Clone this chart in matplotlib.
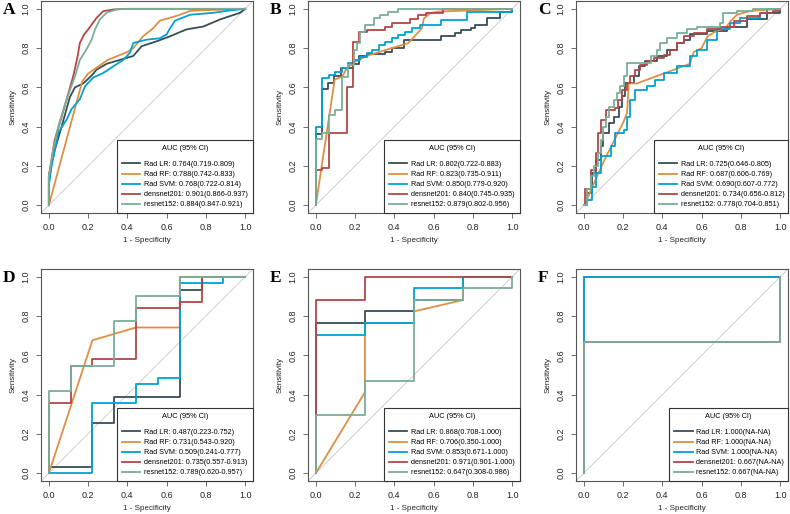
import matplotlib.pyplot as plt

plt.rcParams['font.family'] = ['Liberation Sans', 'DejaVu Sans']

# model names and colours (JAMA-like palette)
models = ["Rad LR", "Rad RF", "Rad SVM", "densnet201", "resnet152"]
colors = ["#374E55", "#DF8F44", "#00A1D5", "#B24745", "#79AF97"]

# AUC (95% CI) text per panel
auc_a = ["0.764(0.719-0.809)", "0.788(0.742-0.833)", "0.768(0.722-0.814)", "0.901(0.866-0.937)", "0.884(0.847-0.921)"]
auc_b = ["0.802(0.722-0.883)", "0.823(0.735-0.911)", "0.850(0.779-0.920)", "0.840(0.745-0.935)", "0.879(0.802-0.956)"]
auc_c = ["0.725(0.646-0.805)", "0.687(0.606-0.769)", "0.690(0.607-0.772)", "0.734(0.656-0.812)", "0.778(0.704-0.851)"]
auc_d = ["0.487(0.223-0.752)", "0.731(0.543-0.920)", "0.509(0.241-0.777)", "0.735(0.557-0.913)", "0.789(0.620-0.957)"]
auc_e = ["0.868(0.708-1.000)", "0.706(0.350-1.000)", "0.853(0.671-1.000)", "0.971(0.901-1.000)", "0.647(0.308-0.986)"]
auc_f = ["1.000(NA-NA)", "1.000(NA-NA)", "1.000(NA-NA)", "0.667(NA-NA)", "0.667(NA-NA)"]

# ROC points (1 - specificity, sensitivity)
a_lr = [(0, 0), (0, 0.15), (0.03, 0.28), (0.065, 0.40), (0.09, 0.49), (0.107, 0.55), (0.133, 0.60), (0.175, 0.62),
        (0.218, 0.66), (0.243, 0.69), (0.294, 0.72), (0.362, 0.74), (0.43, 0.76), (0.473, 0.81), (0.55, 0.835),
        (0.617, 0.86), (0.70, 0.895), (0.787, 0.91), (0.872, 0.946), (0.974, 0.98), (1, 1)]
a_rf = [(0, 0), (0.17, 0.63), (0.20, 0.67), (0.30, 0.74), (0.40, 0.78), (0.43, 0.80), (0.48, 0.86), (0.53, 0.90),
        (0.566, 0.94), (0.62, 0.955), (0.668, 0.97), (0.72, 0.99), (0.85, 0.995), (1, 1)]
a_svm = [(0, 0), (0, 0.10), (0.014, 0.20), (0.048, 0.37), (0.09, 0.435), (0.116, 0.49), (0.158, 0.54), (0.184, 0.605),
         (0.226, 0.65), (0.277, 0.673), (0.328, 0.707), (0.379, 0.74), (0.413, 0.776), (0.43, 0.826), (0.498, 0.843),
         (0.566, 0.85), (0.60, 0.87), (0.617, 0.90), (0.643, 0.94), (0.72, 0.97), (0.84, 0.98), (0.906, 0.99), (1, 1)]
a_dense = [(0, 0), (0, 0.146), (0.019, 0.265), (0.03, 0.333), (0.065, 0.45), (0.09, 0.537), (0.124, 0.656),
           (0.145, 0.75), (0.158, 0.826), (0.18, 0.87), (0.20, 0.895), (0.243, 0.954), (0.277, 0.988), (0.33, 0.997),
           (0.40, 1.0), (1, 1)]
a_res = [(0, 0), (0, 0.146), (0.022, 0.28), (0.048, 0.40), (0.09, 0.537), (0.133, 0.656), (0.158, 0.74), (0.19, 0.79),
         (0.218, 0.843), (0.235, 0.895), (0.26, 0.946), (0.294, 0.98), (0.345, 0.997), (0.40, 1.0), (1, 1)]

b_lr = [(0, 0), (0, 0.36), (0.03, 0.36), (0.03, 0.59), (0.06, 0.59), (0.06, 0.62), (0.09, 0.62), (0.09, 0.66),
        (0.13, 0.66), (0.13, 0.70), (0.19, 0.70), (0.19, 0.72), (0.22, 0.72), (0.22, 0.76), (0.26, 0.76), (0.26, 0.77),
        (0.35, 0.77), (0.35, 0.78), (0.39, 0.78), (0.39, 0.80), (0.45, 0.80), (0.45, 0.84), (0.64, 0.84), (0.64, 0.86),
        (0.71, 0.86), (0.71, 0.876), (0.74, 0.876), (0.74, 0.89), (0.79, 0.89), (0.79, 0.90), (0.81, 0.90),
        (0.81, 0.918), (0.87, 0.918), (0.87, 0.952), (0.94, 0.952), (0.94, 0.986), (1, 0.986), (1, 1)]
b_rf = [(0, 0), (0.096, 0.64), (0.134, 0.655), (0.16, 0.70), (0.20, 0.73), (0.26, 0.76), (0.354, 0.79), (0.47, 0.825),
        (0.54, 0.90), (0.55, 0.95), (0.58, 0.977), (0.62, 0.986), (1, 1)]
b_svm = [(0, 0), (0, 0.40), (0.032, 0.40), (0.032, 0.646), (0.066, 0.646), (0.066, 0.663), (0.10, 0.663), (0.10, 0.68),
         (0.134, 0.68), (0.134, 0.697), (0.164, 0.697), (0.164, 0.722), (0.193, 0.722), (0.193, 0.74), (0.227, 0.74),
         (0.227, 0.757), (0.26, 0.757), (0.26, 0.774), (0.286, 0.774), (0.286, 0.79), (0.32, 0.79), (0.32, 0.816),
         (0.35, 0.816), (0.35, 0.833), (0.387, 0.833), (0.387, 0.85), (0.42, 0.85), (0.42, 0.867), (0.455, 0.867),
         (0.455, 0.884), (0.49, 0.884), (0.49, 0.90), (0.53, 0.90), (0.53, 0.918), (0.64, 0.918), (0.64, 0.944),
         (0.77, 0.944), (0.77, 0.986), (1, 0.986), (1, 1)]
b_dense = [(0, 0), (0, 0.18), (0.03, 0.18), (0.03, 0.19), (0.066, 0.19), (0.066, 0.37), (0.16, 0.37), (0.16, 0.60),
           (0.19, 0.60), (0.19, 0.83), (0.22, 0.83), (0.22, 0.88), (0.26, 0.88), (0.26, 0.89), (0.35, 0.89),
           (0.35, 0.91), (0.39, 0.91), (0.39, 0.93), (0.48, 0.93), (0.48, 0.95), (0.52, 0.95), (0.52, 0.97),
           (0.56, 0.97), (0.56, 0.98), (0.65, 0.98), (0.65, 1.0), (1, 1)]
b_res = [(0, 0), (0, 0.335), (0.032, 0.335), (0.032, 0.366), (0.066, 0.366), (0.066, 0.46), (0.10, 0.46), (0.10, 0.485),
         (0.134, 0.485), (0.134, 0.655), (0.164, 0.655), (0.164, 0.714), (0.193, 0.714), (0.193, 0.79), (0.21, 0.79),
         (0.21, 0.825), (0.227, 0.825), (0.227, 0.884), (0.252, 0.884), (0.252, 0.918), (0.294, 0.918), (0.294, 0.952),
         (0.328, 0.952), (0.328, 0.969), (0.37, 0.969), (0.37, 0.986), (0.42, 0.986), (0.42, 1.0), (1, 1)]

# panel C curves (step corners, except RF)
c_lr = [(0, 0), (0.017, 0.061), (0.042, 0.163), (0.06, 0.23), (0.085, 0.30), (0.098, 0.367), (0.127, 0.418),
        (0.153, 0.45), (0.178, 0.50), (0.195, 0.554), (0.212, 0.622), (0.254, 0.656), (0.28, 0.707), (0.314, 0.733),
        (0.373, 0.758), (0.424, 0.79), (0.475, 0.826), (0.51, 0.843), (0.542, 0.87), (0.627, 0.886), (0.73, 0.91),
        (0.83, 0.946), (0.932, 0.98), (1, 1)]
c_rf = [(0, 0), (0.008, 0), (0.02, 0.04), (0.10, 0.22), (0.20, 0.42), (0.22, 0.47), (0.229, 0.62), (0.27, 0.62),
        (0.54, 0.72), (0.56, 0.78), (0.60, 0.80), (0.63, 0.86), (0.68, 0.89), (0.72, 0.90), (0.75, 0.94), (0.78, 0.97),
        (0.85, 0.99), (1, 1)]
c_svm = [(0, 0), (0.017, 0.027), (0.042, 0.095), (0.06, 0.163), (0.085, 0.248), (0.136, 0.30), (0.16, 0.367),
         (0.203, 0.384), (0.22, 0.45), (0.237, 0.537), (0.263, 0.588), (0.322, 0.605), (0.364, 0.64), (0.407, 0.673),
         (0.475, 0.707), (0.542, 0.758), (0.576, 0.79), (0.627, 0.843), (0.678, 0.895), (0.746, 0.93), (0.797, 0.954),
         (0.898, 0.98), (0.932, 0.997), (1, 1)]
c_dense = [(0, 0), (0.005, 0.08), (0.034, 0.18), (0.06, 0.265), (0.071, 0.367), (0.088, 0.435), (0.115, 0.486),
           (0.16, 0.495), (0.173, 0.537), (0.195, 0.588), (0.22, 0.622), (0.237, 0.656), (0.263, 0.69), (0.288, 0.716),
           (0.322, 0.733), (0.356, 0.75), (0.407, 0.767), (0.44, 0.79), (0.475, 0.826), (0.51, 0.86), (0.56, 0.878),
           (0.627, 0.895), (0.695, 0.91), (0.763, 0.937), (0.83, 0.963), (0.898, 0.98), (0.966, 0.988), (1, 1)]
c_res = [(0, 0), (0.017, 0.08), (0.034, 0.146), (0.05, 0.197), (0.071, 0.265), (0.085, 0.333), (0.098, 0.40),
         (0.115, 0.45), (0.127, 0.50), (0.153, 0.537), (0.17, 0.571), (0.186, 0.605), (0.203, 0.656), (0.22, 0.724),
         (0.34, 0.758), (0.373, 0.79), (0.39, 0.826), (0.424, 0.852), (0.475, 0.878), (0.525, 0.895), (0.576, 0.91),
         (0.695, 0.93), (0.71, 0.98), (0.78, 0.988), (0.864, 1.0), (1, 1)]

d_lr = [(0, 0), (0, 0.032), (0.222, 0.032), (0.222, 0.258), (0.333, 0.258), (0.333, 0.387), (0.667, 0.387),
        (0.667, 0.935), (0.778, 0.935), (0.778, 1), (1, 1)]
d_rf = [(0, 0), (0.222, 0.677), (0.444, 0.742), (0.667, 0.742), (0.667, 1), (1, 1)]
d_svm = [(0, 0), (0.222, 0), (0.222, 0.355), (0.444, 0.355), (0.444, 0.452), (0.556, 0.452), (0.556, 0.484),
         (0.667, 0.484), (0.667, 0.968), (0.889, 0.968), (0.889, 1), (1, 1)]
d_dense = [(0, 0), (0, 0.355), (0.111, 0.355), (0.111, 0.548), (0.222, 0.548), (0.222, 0.581), (0.444, 0.581),
           (0.444, 0.839), (0.667, 0.839), (0.667, 0.871), (0.778, 0.871), (0.778, 1.0), (1, 1)]
d_res = [(0, 0), (0, 0.419), (0.111, 0.419), (0.111, 0.548), (0.333, 0.548), (0.333, 0.774), (0.444, 0.774),
         (0.444, 0.903), (0.667, 0.903), (0.667, 1.0), (1, 1)]

e_lr = [(0, 0), (0, 0.765), (0.25, 0.765), (0.25, 0.824), (0.5, 0.824), (0.5, 0.882), (0.75, 0.882), (0.75, 1), (1, 1)]
e_rf = [(0, 0), (0.25, 0.412), (0.25, 0.765), (0.5, 0.765), (0.5, 0.824), (0.75, 0.882), (0.75, 1), (1, 1)]
e_svm = [(0, 0), (0, 0.706), (0.25, 0.706), (0.25, 0.765), (0.5, 0.765), (0.5, 0.941), (0.75, 0.941), (0.75, 1), (1, 1)]
e_dense = [(0, 0), (0, 0.882), (0.25, 0.882), (0.25, 1), (1, 1)]
e_res = [(0, 0), (0, 0.294), (0.25, 0.294), (0.25, 0.471), (0.5, 0.471), (0.5, 0.882), (0.75, 0.882), (0.75, 0.941),
         (1, 0.941), (1, 1)]

f_lr = [(0, 0), (0, 1), (1, 1)]
f_rf = [(0, 0), (0, 1), (1, 1)]
f_svm = [(0, 0), (0, 1), (1, 1)]
f_dense = [(0, 0), (0, 0.667), (1, 0.667), (1, 1)]
f_res = [(0, 0), (0, 0.667), (1, 0.667), (1, 1)]

ticks = [0.0, 0.2, 0.4, 0.6, 0.8, 1.0]
tick_labels = ["0.0", "0.2", "0.4", "0.6", "0.8", "1.0"]

# letter, curves, auc text, axes left/top in px, legend width fraction, step-drawn panel
panels = [
    ("A", [a_lr, a_rf, a_svm, a_dense, a_res], auc_a, 41, 1, 0.642, False),
    ("B", [b_lr, b_rf, b_svm, b_dense, b_res], auc_b, 308, 1, 0.642, False),
    ("C", [c_lr, c_rf, c_svm, c_dense, c_res], auc_c, 576, 1, 0.632, True),
    ("D", [d_lr, d_rf, d_svm, d_dense, d_res], auc_d, 41, 269, 0.642, False),
    ("E", [e_lr, e_rf, e_svm, e_dense, e_res], auc_e, 308, 269, 0.642, False),
    ("F", [f_lr, f_rf, f_svm, f_dense, f_res], auc_f, 576, 269, 0.561, False),
]

W, H = 790, 514
SIZE = 212
fig = plt.figure(figsize=(W / 100, H / 100), dpi=100)

for letter, curves, aucs, left, top, leg_w, stepped in panels:
    ax = fig.add_axes([left / W, 1 - (top + SIZE) / H, SIZE / W, SIZE / H])
    ax.set_xlim(-0.04, 1.04)
    ax.set_ylim(-0.04, 1.04)
    ax.axline((0, 0), (1, 1), color="#c8c8c8", lw=0.6, zorder=1)

    handles = []
    for i, pts in enumerate(curves):
        xs = [p[0] for p in pts]
        ys = [p[1] for p in pts]
        ds = "steps-post" if (stepped and i != 1) else "default"
        ln, = ax.plot(xs, ys, color=colors[i], lw=1.3, drawstyle=ds, zorder=2 + i)
        handles.append(ln)

    labels = [f"{m}: {a}" for m, a in zip(models, aucs)]
    leg = ax.legend(handles, labels, title="AUC (95% CI)", loc="lower right",
                    bbox_to_anchor=(1 - leg_w, 0, leg_w, 1), mode="expand", borderaxespad=0,
                    fontsize=5.2, title_fontsize=5.3, fancybox=False, framealpha=1,
                    edgecolor="#333333", handlelength=2.6, handletextpad=0.45,
                    labelspacing=0.42, borderpad=0.65)
    leg.get_frame().set_linewidth(0.8)
    leg._legend_box.sep = 6.5  # extra gap under the title
    leg.set_zorder(10)

    for s in ax.spines.values():
        s.set_color("#555555")
        s.set_linewidth(0.8)
    ax.set_xticks(ticks)
    ax.set_xticklabels(tick_labels)
    ax.set_yticks(ticks)
    ax.set_yticklabels(tick_labels, rotation=90, va="center")
    ax.tick_params(direction="out", length=3.5, width=0.6, color="#555555",
                   labelsize=6.5, labelcolor="#222222")
    ax.tick_params(axis="x", pad=3.5)
    ax.tick_params(axis="y", pad=4)

    ax.set_xlabel("1 - Specificity", fontsize=5.8, color="#222222")
    ax.xaxis.set_label_coords(0.5, -27 / SIZE)
    ax.xaxis.label.set_va("center")
    ax.set_ylabel("Sensitivity", fontsize=5.8, color="#222222")
    ax.yaxis.set_label_coords(-28 / SIZE, 0.5)
    ax.yaxis.label.set_va("center")

    fig.text((left - 38) / W, 1 - (top + 9) / H, letter, fontsize=12.5, fontweight="bold",
             family="Liberation Serif", ha="left", va="center")

fig.savefig("out.png", dpi=100)
